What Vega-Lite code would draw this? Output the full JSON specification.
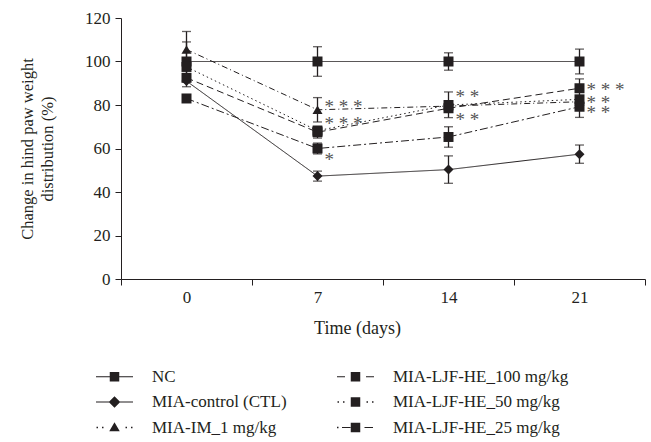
{
  "$schema": "https://vega.github.io/schema/vega-lite/v6.json",
  "width": 524,
  "height": 261,
  "autosize": {"type": "none"},
  "padding": {"left": 121, "top": 18, "right": 6, "bottom": 163},
  "background": "white",
  "config": {
    "view": {"stroke": null},
    "font": "Liberation Serif",
    "axis": {
      "domainColor": "#231f20",
      "tickColor": "#231f20",
      "labelColor": "#231f20",
      "titleColor": "#231f20",
      "labelFont": "Liberation Serif",
      "titleFont": "Liberation Serif",
      "labelFontSize": 17,
      "titleFontSize": 18,
      "titleFontWeight": "normal",
      "grid": false,
      "tickSize": 6,
      "domainWidth": 1,
      "tickWidth": 1
    },
    "legend": {
      "labelFont": "Liberation Serif",
      "labelFontSize": 17,
      "labelColor": "#231f20"
    }
  },
  "resolve": {"scale": {"shape": "independent"}},
  "datasets": {
    "means": [
      {"group": "NC", "day": 0, "value": 100},
      {"group": "NC", "day": 7, "value": 100},
      {"group": "NC", "day": 14, "value": 100},
      {"group": "NC", "day": 21, "value": 100},
      {"group": "MIA-control (CTL)", "day": 0, "value": 91},
      {"group": "MIA-control (CTL)", "day": 7, "value": 47.3},
      {"group": "MIA-control (CTL)", "day": 14, "value": 50.3},
      {"group": "MIA-control (CTL)", "day": 21, "value": 57.4},
      {"group": "MIA-IM_1 mg/kg", "day": 0, "value": 105.5},
      {"group": "MIA-IM_1 mg/kg", "day": 7, "value": 77.8},
      {"group": "MIA-IM_1 mg/kg", "day": 14, "value": 79.5},
      {"group": "MIA-IM_1 mg/kg", "day": 21, "value": 81.5},
      {"group": "MIA-LJF-HE_100 mg/kg", "day": 0, "value": 92.5},
      {"group": "MIA-LJF-HE_100 mg/kg", "day": 7, "value": 67.5},
      {"group": "MIA-LJF-HE_100 mg/kg", "day": 14, "value": 78.5},
      {"group": "MIA-LJF-HE_100 mg/kg", "day": 21, "value": 87.7},
      {"group": "MIA-LJF-HE_50 mg/kg", "day": 0, "value": 97.5},
      {"group": "MIA-LJF-HE_50 mg/kg", "day": 7, "value": 68.2},
      {"group": "MIA-LJF-HE_50 mg/kg", "day": 14, "value": 80},
      {"group": "MIA-LJF-HE_50 mg/kg", "day": 21, "value": 82.6},
      {"group": "MIA-LJF-HE_25 mg/kg", "day": 0, "value": 83},
      {"group": "MIA-LJF-HE_25 mg/kg", "day": 7, "value": 60},
      {"group": "MIA-LJF-HE_25 mg/kg", "day": 14, "value": 65.3},
      {"group": "MIA-LJF-HE_25 mg/kg", "day": 21, "value": 79.2}
    ],
    "errs": [
      {"group": "NC", "day": 0, "lo": 91, "hi": 109},
      {"group": "NC", "day": 7, "lo": 93.2, "hi": 106.8},
      {"group": "NC", "day": 14, "lo": 96, "hi": 104},
      {"group": "NC", "day": 21, "lo": 94.3, "hi": 105.7},
      {"group": "MIA-control (CTL)", "day": 7, "lo": 45, "hi": 49.6},
      {"group": "MIA-control (CTL)", "day": 14, "lo": 44, "hi": 56.6},
      {"group": "MIA-control (CTL)", "day": 21, "lo": 53.2, "hi": 61.6},
      {"group": "MIA-IM_1 mg/kg", "day": 0, "lo": 97, "hi": 113.8},
      {"group": "MIA-IM_1 mg/kg", "day": 7, "lo": 72.2, "hi": 83.4},
      {"group": "MIA-LJF-HE_100 mg/kg", "day": 0, "lo": 88.4, "hi": 96.6},
      {"group": "MIA-LJF-HE_100 mg/kg", "day": 7, "lo": 64.8, "hi": 70.2},
      {"group": "MIA-LJF-HE_100 mg/kg", "day": 21, "lo": 83.4, "hi": 92},
      {"group": "MIA-LJF-HE_50 mg/kg", "day": 14, "lo": 74.2, "hi": 86},
      {"group": "MIA-LJF-HE_25 mg/kg", "day": 7, "lo": 57.5, "hi": 62.5},
      {"group": "MIA-LJF-HE_25 mg/kg", "day": 14, "lo": 60.6, "hi": 70},
      {"group": "MIA-LJF-HE_25 mg/kg", "day": 21, "lo": 74.3, "hi": 84.1}
    ],
    "stars": [
      {"day": 7, "value": 81.5, "label": "* * *"},
      {"day": 7, "value": 73.4, "label": "* * *"},
      {"day": 7, "value": 57, "label": "*"},
      {"day": 14, "value": 86.1, "label": "* *"},
      {"day": 14, "value": 75.4, "label": "* *"},
      {"day": 21, "value": 89.2, "label": "* * *"},
      {"day": 21, "value": 83.4, "label": "* *"},
      {"day": 21, "value": 78.8, "label": "* *"}
    ]
  },
  "layer": [
    {
      "data": {"name": "means"},
      "mark": {"type": "line", "color": "#231f20", "strokeWidth": 1},
      "encoding": {
        "x": {
          "field": "day", "type": "quantitative",
          "scale": {"domain": [-3.5, 24.5], "nice": false, "zero": false},
          "axis": {
            "title": "Time (days)",
            "values": [-3.5, 0, 3.5, 7, 10.5, 14, 17.5, 21, 24.5],
            "labelExpr": "datum.value % 7 === 0 ? datum.label : ''",
            "labelOverlap": false,
            "labelFlush": false,
            "labelPadding": 4,
            "titlePadding": 14,
            "titleX": 236,
            "tickOpacity": {"condition": {"test": "datum.value % 7 === 0", "value": 0}, "value": 1}
          }
        },
        "y": {
          "field": "value", "type": "quantitative",
          "scale": {"domain": [0, 120], "nice": false},
          "axis": {
            "title": ["Change in hind paw weight", "distribution (%)"],
            "values": [0, 20, 40, 60, 80, 100, 120],
            "labelPadding": 5,
            "titleFontSize": 16.5,
            "titlePadding": 29,
            "titleLineHeight": 20
          }
        },
        "detail": {"field": "group"},
        "strokeDash": {
          "field": "group", "type": "nominal", "legend": null,
          "scale": {
            "domain": ["NC", "MIA-control (CTL)", "MIA-IM_1 mg/kg", "MIA-LJF-HE_100 mg/kg", "MIA-LJF-HE_50 mg/kg", "MIA-LJF-HE_25 mg/kg"],
            "range": [[1, 0], [1, 0], [6, 3, 1, 3], [7, 4], [1.5, 3], [8, 3, 2, 3]]
          }
        }
      }
    },
    {
      "data": {"name": "errs"},
      "mark": {"type": "rule", "color": "#231f20", "strokeWidth": 1.3},
      "encoding": {
        "x": {"field": "day", "type": "quantitative"},
        "y": {"field": "lo", "type": "quantitative"},
        "y2": {"field": "hi"}
      }
    },
    {
      "data": {"name": "errs"},
      "mark": {"type": "tick", "orient": "horizontal", "color": "#231f20", "size": 9, "thickness": 1.3},
      "encoding": {
        "x": {"field": "day", "type": "quantitative"},
        "y": {"field": "lo", "type": "quantitative"}
      }
    },
    {
      "data": {"name": "errs"},
      "mark": {"type": "tick", "orient": "horizontal", "color": "#231f20", "size": 9, "thickness": 1.3},
      "encoding": {
        "x": {"field": "day", "type": "quantitative"},
        "y": {"field": "hi", "type": "quantitative"}
      }
    },
    {
      "data": {"name": "means"},
      "mark": {"type": "point", "filled": true, "color": "#231f20", "opacity": 1, "size": 100},
      "encoding": {
        "x": {"field": "day", "type": "quantitative"},
        "y": {"field": "value", "type": "quantitative"},
        "shape": {
          "field": "group", "type": "nominal", "legend": null,
          "scale": {
            "domain": ["NC", "MIA-control (CTL)", "MIA-IM_1 mg/kg", "MIA-LJF-HE_100 mg/kg", "MIA-LJF-HE_50 mg/kg", "MIA-LJF-HE_25 mg/kg"],
            "range": ["square", "diamond", "triangle-up", "square", "square", "square"]
          }
        }
      }
    },
    {
      "data": {"name": "means"},
      "mark": {"type": "point", "filled": true, "color": "#231f20", "opacity": 0, "size": 100},
      "encoding": {
        "x": {"field": "day", "type": "quantitative"},
        "y": {"field": "value", "type": "quantitative"},
        "shape": {
          "field": "group", "type": "nominal",
          "scale": {
            "domain": ["NC", "MIA-control (CTL)", "MIA-IM_1 mg/kg", "MIA-LJF-HE_100 mg/kg", "MIA-LJF-HE_50 mg/kg", "MIA-LJF-HE_25 mg/kg"],
            "range": [
              "M-3.7,-0.1H3.7V0.1H-3.7Z M-0.95,-0.95H0.95V0.95H-0.95Z",
              "M-3.7,-0.1H3.7V0.1H-3.7Z M0,-1.15L1.15,0L0,1.15L-1.15,0Z",
              "M-3.6,-0.15h0.3v0.3h-0.3Z M-2.5,-0.15h0.3v0.3h-0.3Z M2.2,-0.15h0.3v0.3h-0.3Z M3.3,-0.15h0.3v0.3h-0.3Z M0,-1.05L1.05,0.75H-1.05Z",
              "M-3.7,-0.1H-2.1V0.1H-3.7Z M2.1,-0.1H3.7V0.1H2.1Z M-0.95,-0.95H0.95V0.95H-0.95Z",
              "M-3.6,-0.15h0.3v0.3h-0.3Z M-2.5,-0.15h0.3v0.3h-0.3Z M2.2,-0.15h0.3v0.3h-0.3Z M3.3,-0.15h0.3v0.3h-0.3Z M-0.95,-0.95H0.95V0.95H-0.95Z",
              "M-3.7,-0.15h0.3v0.3h-0.3Z M-2.7,-0.1H-1V0.1H-2.7Z M1.8,-0.1H3.5V0.1H1.8Z M-0.95,-0.95H0.95V0.95H-0.95Z"
            ]
          },
          "legend": {
            "title": null,
            "orient": "none",
            "legendX": -15,
            "legendY": 350,
            "columns": 2,
            "columnPadding": 50,
            "rowPadding": 7.5,
            "symbolSize": 100,
            "symbolOpacity": 1,
            "symbolFillColor": "#231f20",
            "symbolStrokeColor": "#231f20",
            "symbolStrokeWidth": 0,
            "labelOffset": 29,
            "labelLimit": 400,
            "padding": 0
          }
        }
      }
    },
    {
      "data": {"name": "stars"},
      "mark": {"type": "text", "align": "left", "baseline": "middle", "dx": 7, "dy": 5, "font": "Liberation Serif", "fontSize": 19, "color": "#555555"},
      "encoding": {
        "x": {"field": "day", "type": "quantitative"},
        "y": {"field": "value", "type": "quantitative"},
        "text": {"field": "label"}
      }
    }
  ]
}
